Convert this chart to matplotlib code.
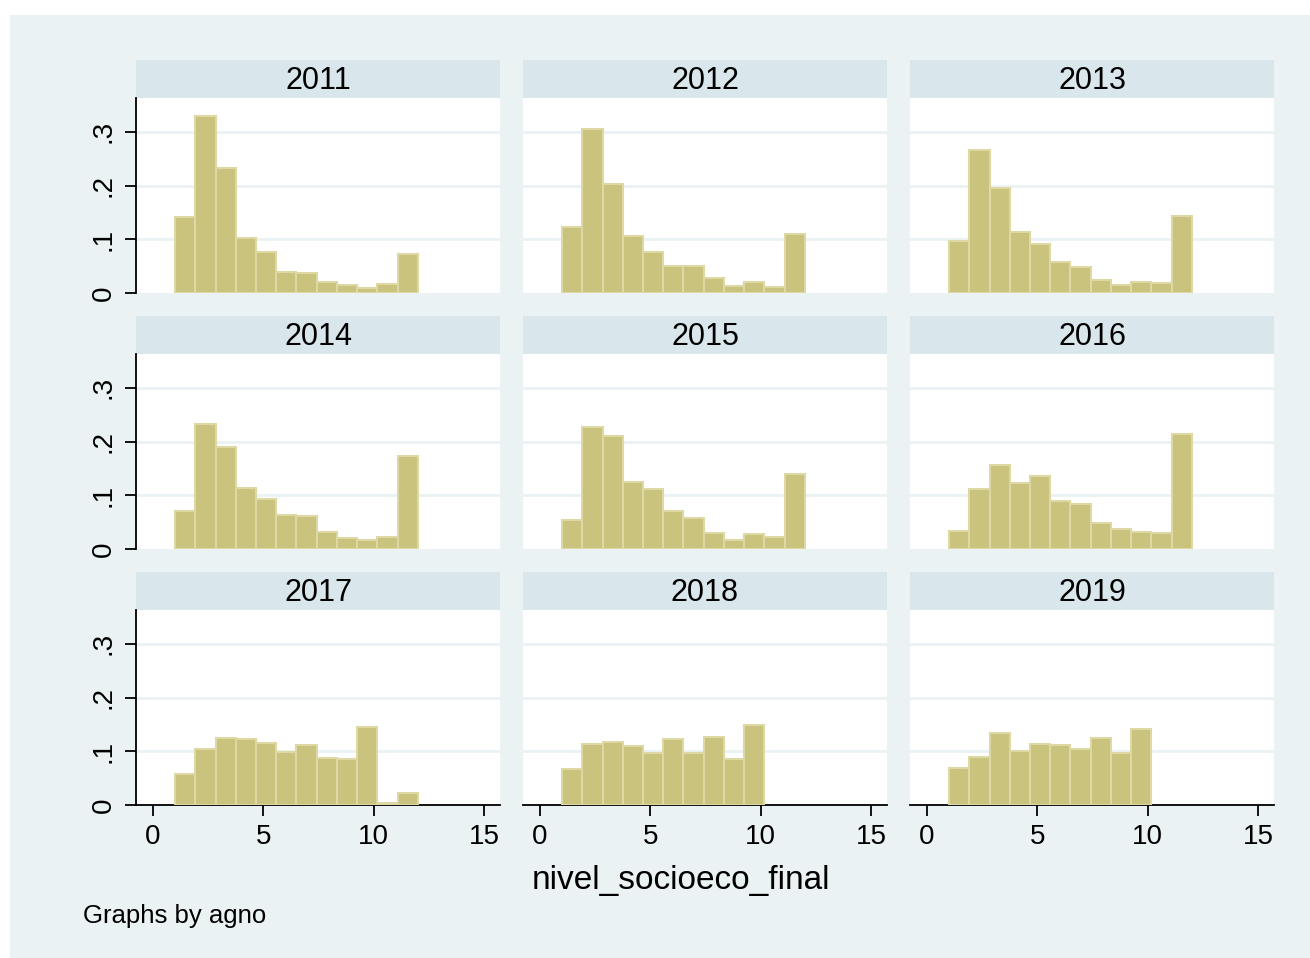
import numpy as np
import matplotlib
matplotlib.use('Agg')
import matplotlib.pyplot as plt
from matplotlib.patches import Rectangle

plt.rcParams['font.family'] = ['Liberation Sans', 'DejaVu Sans']

# histogram densities, bins of width 11/12 starting at 1
years = ['2011', '2012', '2013', '2014', '2015', '2016', '2017', '2018', '2019']
d2011 = [0.142, 0.330, 0.232, 0.102, 0.077, 0.040, 0.037, 0.021, 0.014, 0.009, 0.017, 0.073]
d2012 = [0.123, 0.306, 0.202, 0.106, 0.076, 0.050, 0.050, 0.028, 0.013, 0.020, 0.012, 0.109]
d2013 = [0.096, 0.266, 0.195, 0.114, 0.092, 0.058, 0.049, 0.025, 0.015, 0.021, 0.018, 0.143]
d2014 = [0.071, 0.233, 0.190, 0.114, 0.094, 0.064, 0.061, 0.032, 0.020, 0.017, 0.023, 0.174]
d2015 = [0.054, 0.228, 0.210, 0.124, 0.112, 0.071, 0.058, 0.030, 0.017, 0.027, 0.023, 0.140]
d2016 = [0.033, 0.112, 0.156, 0.122, 0.136, 0.090, 0.083, 0.049, 0.038, 0.031, 0.030, 0.214]
d2017 = [0.058, 0.105, 0.125, 0.122, 0.116, 0.099, 0.112, 0.088, 0.086, 0.146, 0.004, 0.022]
d2018 = [0.067, 0.114, 0.117, 0.110, 0.096, 0.122, 0.097, 0.127, 0.086, 0.148]
d2019 = [0.068, 0.089, 0.134, 0.101, 0.114, 0.111, 0.104, 0.125, 0.096, 0.141]
dens = [d2011, d2012, d2013, d2014, d2015, d2016, d2017, d2018, d2019]

bin_start = 1.0
bin_width = 11 / 12
xticks = [0, 5, 10, 15]
yticks = [0, 0.1, 0.2, 0.3]
ytick_labels = ['0', '.1', '.2', '.3']
xlabel = 'nivel_socioeco_final'
note = 'Graphs by agno'

W, H = 1310, 958
bg = '#EAF2F3'
strip_col = '#D9E6EB'
fill = '#C9C37E'
edge = '#DDD8A4'

fig = plt.figure(figsize=(W / 100, H / 100), dpi=100)
fig.patch.set_facecolor('white')
fig.patches.append(Rectangle((10 / W, 0), 1 - 10 / W, 1 - 15 / H,
                             transform=fig.transFigure, facecolor=bg,
                             edgecolor='none', zorder=-10))

lefts = [136, 523, 910]
pw = 364
strip_tops = [60, 316, 572]
sh = 38
ph = 195

def fx(px):
    return px / W

def fy(py):
    return 1 - py / H

for i, (yr, d) in enumerate(zip(years, dens)):
    r, c = divmod(i, 3)
    x0 = lefts[c]
    st = strip_tops[r]
    # strip with year
    sax = fig.add_axes([fx(x0), fy(st + sh), fx(pw), sh / H])
    sax.set_facecolor(strip_col)
    sax.set_xticks([])
    sax.set_yticks([])
    for s in sax.spines.values():
        s.set_visible(False)
    sax.text(0.5, 0.45, yr, ha='center', va='center', fontsize=22,
             transform=sax.transAxes)

    ax = fig.add_axes([fx(x0), fy(st + sh + ph), fx(pw), ph / H])
    ax.set_facecolor('white')
    lefts_b = bin_start + bin_width * np.arange(len(d))
    ax.bar(lefts_b, d, width=bin_width, align='edge', color=fill,
           edgecolor=edge, linewidth=1.5, zorder=3)
    ax.set_xlim(-0.77, 15.72)
    ax.set_ylim(0, 0.363)
    for g in yticks[1:]:
        ax.axhline(g, color=bg, linewidth=2, zorder=1)
    for s in ['top', 'right']:
        ax.spines[s].set_visible(False)
    ax.spines['left'].set_visible(c == 0)
    ax.spines['bottom'].set_visible(r == 2)
    ax.spines['left'].set_linewidth(1.3)
    ax.spines['bottom'].set_linewidth(1.3)
    if c == 0:
        ax.set_yticks(yticks)
        ax.set_yticklabels(ytick_labels, rotation=90, va='center', fontsize=20)
        ax.tick_params(axis='y', length=8, width=1.3, pad=6)
    else:
        ax.set_yticks([])
    if r == 2:
        ax.set_xticks(xticks)
        ax.set_xticklabels([str(t) for t in xticks], fontsize=20)
        ax.tick_params(axis='x', length=8, width=1.3, pad=6)
    else:
        ax.set_xticks([])

fig.text(fx(lefts[1] + pw / 2 - 24), fy(880), xlabel, ha='center', va='center',
         fontsize=24)
fig.text(fx(83), fy(916), note, ha='left', va='center', fontsize=18.5)

fig.savefig('out.png', dpi=100)
